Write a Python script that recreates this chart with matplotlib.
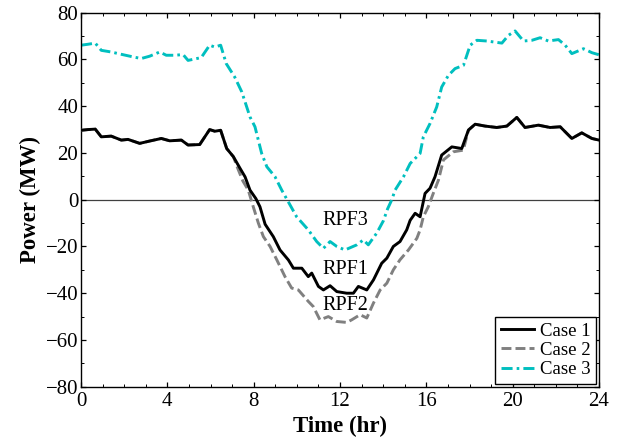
import matplotlib
matplotlib.use("Agg")
import matplotlib.pyplot as plt
import numpy as np

plt.rcParams["font.family"] = ["Liberation Serif", "DejaVu Serif"]
plt.rcParams["mathtext.fontset"] = "stix"

# ---- data (hours, MW) ----
t_case1 = [0.0, 0.32, 0.66, 0.94, 1.40, 1.87, 2.18, 2.72, 3.18, 3.72, 4.11, 4.65, 4.96,
           5.50, 5.96, 6.20, 6.47, 6.75, 7.06, 7.37, 7.60, 7.83, 8.10, 8.29, 8.53, 8.91,
           9.22, 9.61, 9.84, 10.23, 10.53, 10.69, 11.00, 11.23, 11.54, 11.85, 12.31,
           12.62, 12.85, 13.24, 13.55, 13.93, 14.17, 14.47, 14.78, 15.09, 15.25, 15.48,
           15.71, 15.94, 16.17, 16.40, 16.71, 17.18, 17.64, 17.95, 18.26, 18.72, 19.26,
           19.73, 20.19, 20.57, 21.19, 21.73, 22.20, 22.74, 23.20, 23.67, 24.0]
p_case1 = [29.7, 30.0, 30.2, 26.9, 27.2, 25.5, 25.8, 24.1, 25.1, 26.2, 25.2, 25.5, 23.4,
           23.6, 30.0, 29.3, 29.7, 21.9, 18.4, 13.4, 9.8, 4.1, 0.5, -3.0, -10.5, -15.8,
           -21.5, -25.8, -29.3, -29.3, -32.9, -31.4, -37.1, -38.6, -36.8, -39.3, -40.0,
           -40.0, -37.1, -38.6, -34.3, -27.2, -25.0, -20.0, -17.9, -12.9, -8.8, -5.8,
           -7.3, 2.7, 4.9, 9.8, 19.1, 22.6, 21.9, 29.8, 32.3, 31.5, 30.9,
           31.5, 35.2, 30.9, 31.9, 30.9, 31.2, 26.2, 28.6, 26.2, 25.5]

t_case2 = [0.0, 0.32, 0.66, 0.94, 1.40, 1.87, 2.18, 2.72, 3.18, 3.72, 4.11, 4.65, 4.96,
           5.50, 5.96, 6.20, 6.47, 6.75, 7.06, 7.28, 7.50, 7.75, 7.98, 8.22, 8.45, 8.76,
           9.07, 9.45, 9.76, 10.07, 10.53, 10.76, 11.07, 11.46, 11.85, 12.31, 12.54,
           12.93, 13.24, 13.55, 13.86, 14.17, 14.47, 14.78, 15.17, 15.56, 15.71, 15.86,
           16.09, 16.32, 16.56, 16.79, 17.25, 17.71, 17.95, 18.26, 18.72, 19.26,
           19.73, 20.19, 20.57, 21.19, 21.73, 22.20, 22.74, 23.20, 23.67, 24.0]
p_case2 = [29.7, 30.0, 30.2, 26.9, 27.2, 25.5, 25.8, 24.1, 25.1, 26.2, 25.2, 25.5, 23.4,
           23.6, 30.0, 29.3, 29.7, 21.9, 18.4, 13.0, 8.0, 4.1, -3.0, -10.1, -15.8, -20.0,
           -25.7, -32.9, -37.8, -38.6, -43.5, -45.7, -51.4, -50.0, -52.1, -52.5, -51.4,
           -49.2, -50.6, -44.2, -38.6, -35.7, -30.0, -25.7, -21.5, -16.5, -12.9, -7.3,
           -3.0, 2.7, 8.4, 17.0, 20.5, 21.2, 29.8, 32.3, 31.5, 30.9,
           31.5, 35.2, 30.9, 31.9, 30.9, 31.2, 26.2, 28.6, 26.2, 25.5]

t_case3 = [0.0, 0.32, 0.66, 0.94, 1.40, 1.87, 2.41, 2.79, 3.18, 3.65, 3.95, 4.34, 4.73,
           4.96, 5.57, 5.96, 6.20, 6.47, 6.73, 7.12, 7.45, 7.83, 8.06, 8.37, 8.61, 8.99,
           9.30, 9.61, 9.99, 10.53, 10.92, 11.23, 11.54, 11.85, 12.23, 12.78, 13.08,
           13.31, 13.70, 14.01, 14.20, 14.40, 14.55, 14.94, 15.25, 15.71, 15.86, 16.17,
           16.48, 16.71, 17.02, 17.33, 17.72, 18.03, 18.34, 18.80, 19.50, 19.80, 20.11,
           20.50, 20.89, 21.27, 21.65, 22.12, 22.43, 22.74, 23.28, 23.67, 24.0]
p_case3 = [66.1, 66.5, 67.0, 63.9, 63.2, 62.2, 61.1, 60.4, 61.4, 63.2, 61.8, 61.8, 62.1,
           59.6, 60.8, 66.1, 65.3, 66.1, 58.2, 52.5, 46.1, 35.4, 31.2, 19.8, 14.1, 9.8,
           4.1, -1.0, -7.3, -12.9, -17.9, -20.8, -17.9, -20.0, -21.5, -19.3, -17.2,
           -19.3, -14.3, -9.0, -4.0, 0.0, 4.1, 9.8, 15.5, 19.8, 26.9, 32.6,
           39.7, 48.2, 53.2, 56.1, 57.5, 66.1, 68.2, 67.9, 67.0, 70.3, 72.2,
           67.9, 68.2, 69.3, 67.9, 68.5, 66.1, 62.5, 64.6, 62.9, 62.0]

labels = ["Case 1", "Case 2", "Case 3"]
annotations = [("RPF3", 12.23, -8.7), ("RPF1", 12.23, -30.0), ("RPF2", 12.23, -45.4)]

fig = plt.figure(figsize=(6.24, 4.37), dpi=100)
ax = fig.add_axes([0.1298, 0.1151, 0.8302, 0.8558])

ax.axhline(0, color="#404040", lw=0.9, zorder=1)
ax.plot(t_case1, p_case1, color="black", lw=2.1, label=labels[0], zorder=4)
ax.plot(t_case2, p_case2, color="#808080", lw=2.1, dashes=(3.4, 1.4), label=labels[1], zorder=3)
ax.plot(t_case3, p_case3, color="#00BFBF", lw=2.1, dashes=(3.8, 1.4, 0.9, 1.4), label=labels[2],
        zorder=2)

for txt, x, y in annotations:
    ax.text(x, y, txt, ha="center", va="center", fontsize=14.5)

ax.set_xlim(0, 24)
ax.set_ylim(-80, 80)
ax.set_xticks(np.arange(0, 25, 4))
ax.set_xticks(np.arange(0, 25, 1), minor=True)
ax.set_yticks(np.arange(-80, 81, 20))
ax.set_yticks(np.arange(-80, 81, 10), minor=True)
ax.tick_params(which="both", direction="in", top=True, right=True, labelsize=15)
ax.tick_params(which="major", length=3.5, width=0.9)
ax.tick_params(which="minor", length=2, width=0.7)
ax.tick_params(axis="x", pad=4)
ax.tick_params(axis="y", pad=2)
for s in ax.spines.values():
    s.set_linewidth(1.0)

ax.set_xlabel("Time (hr)", fontsize=16.5, fontweight="bold", labelpad=3)
ax.set_ylabel("Power (MW)", fontsize=16.5, fontweight="bold", labelpad=3)

leg = ax.legend(loc="lower right", fontsize=13.5, frameon=True, fancybox=False,
                edgecolor="black", framealpha=1, borderaxespad=0.15, borderpad=0.3,
                labelspacing=0.12, handlelength=1.8, handletextpad=0.3)
leg.get_frame().set_linewidth(1.0)

fig.savefig("out.png", dpi=100)
